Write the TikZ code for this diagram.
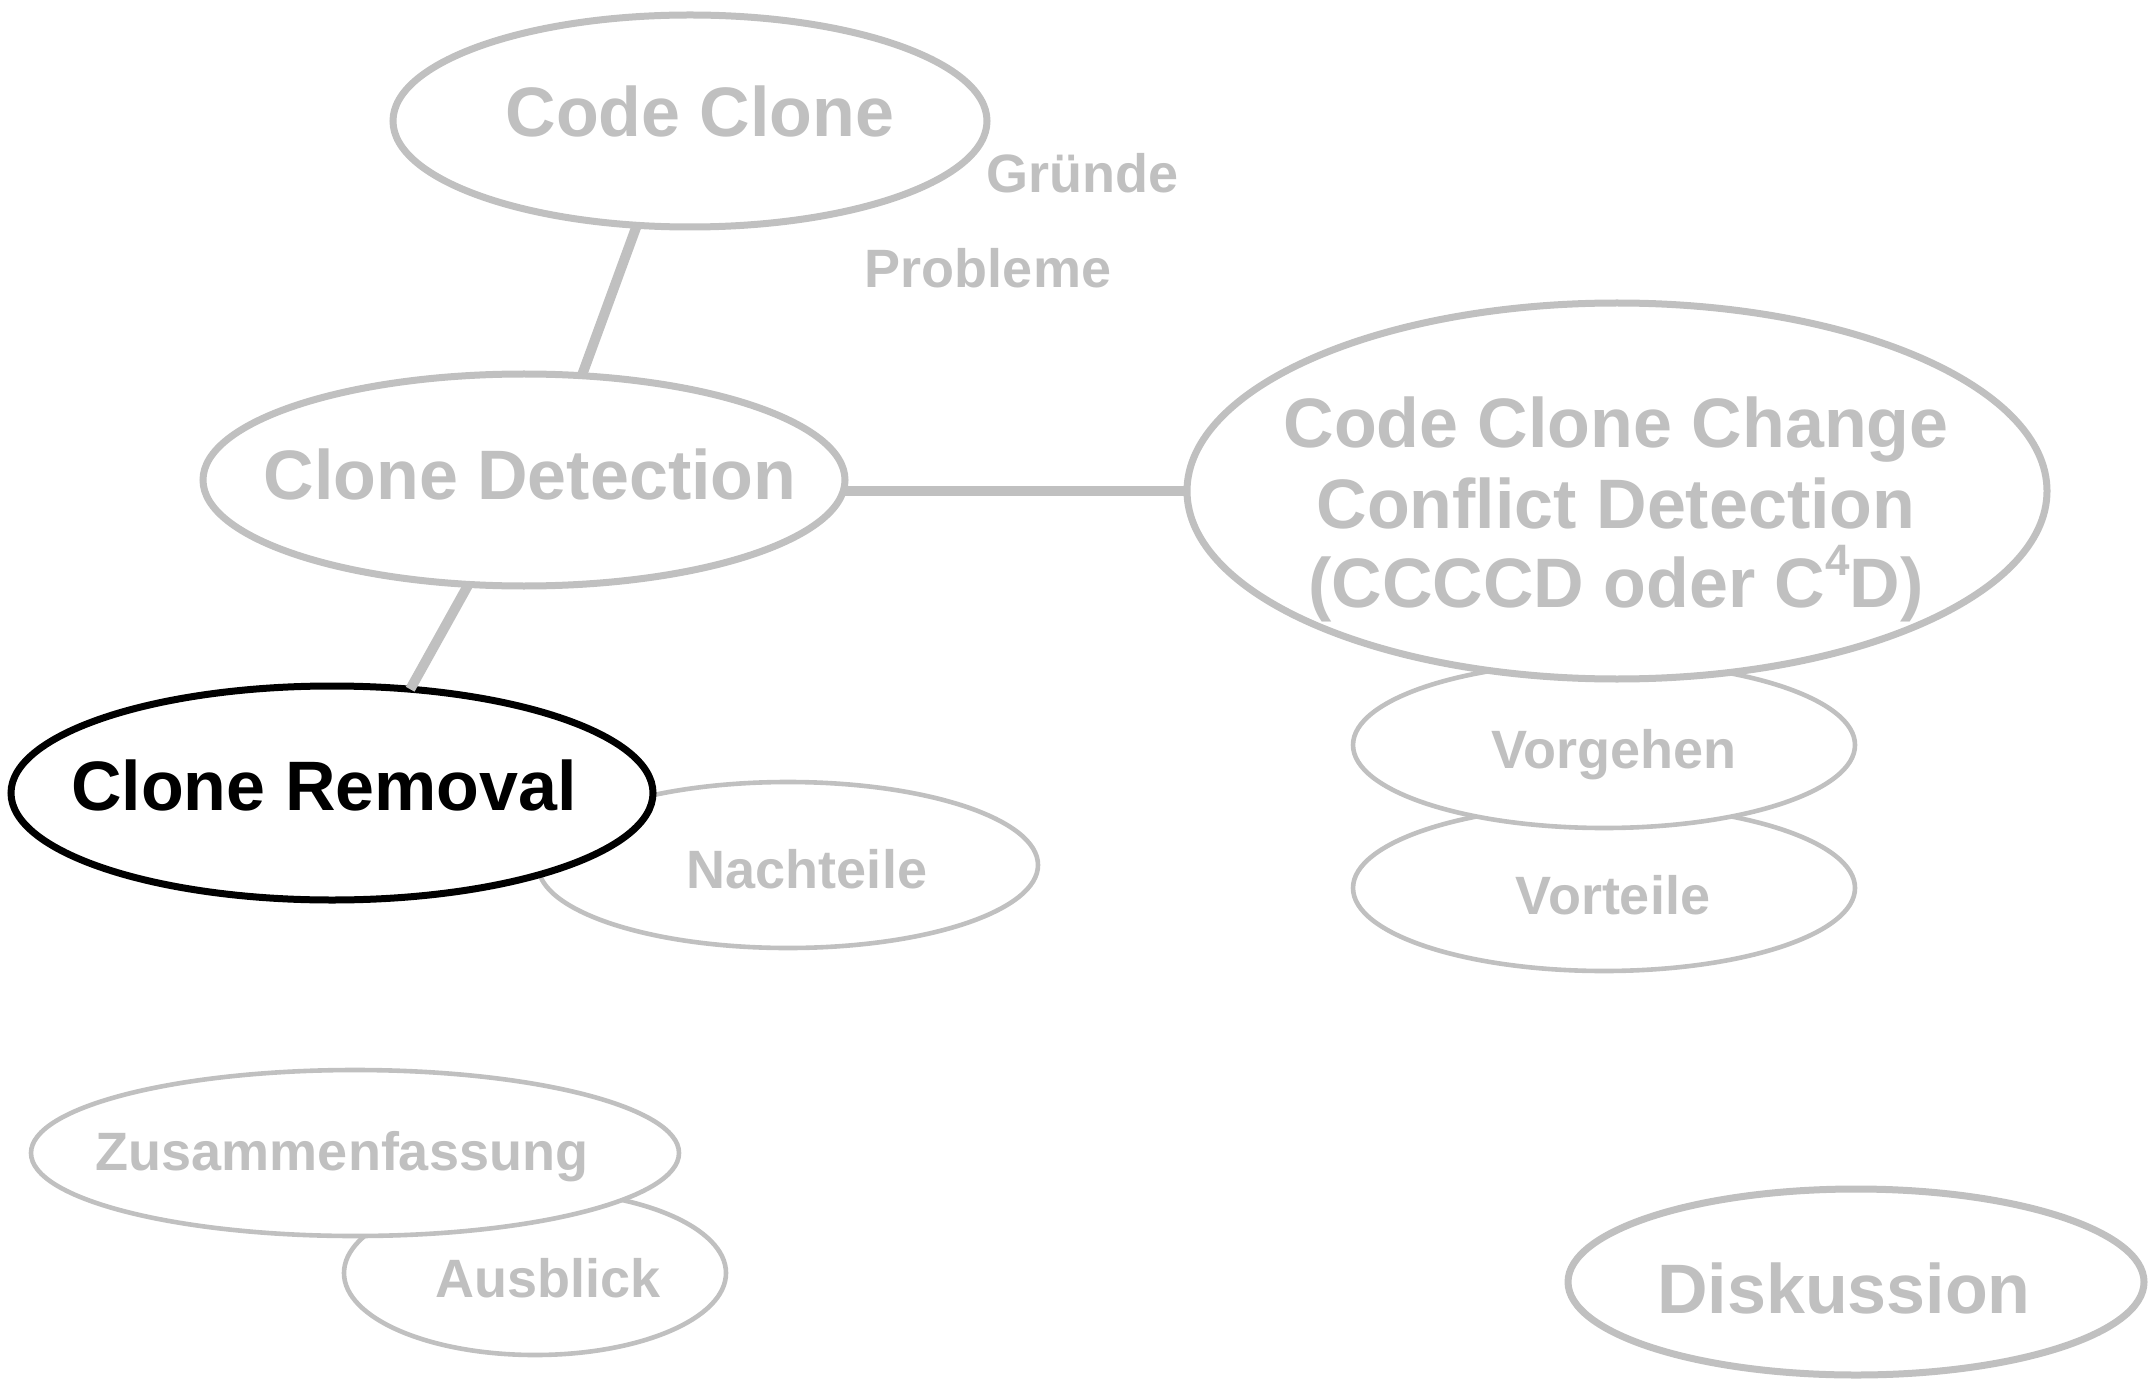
\documentclass[tikz,border=0pt]{standalone}
\usepackage{fontspec}
\setmainfont{Liberation Sans}
\usetikzlibrary{shapes.geometric}
\definecolor{lightgr}{HTML}{C0C0C0}
\tikzset{
  mainfont/.style={font=\bfseries\fontsize{35}{40}\selectfont},
  subfont/.style={font=\bfseries\fontsize{27}{30}\selectfont},
  mainell/.style={ellipse, draw=lightgr, fill=white, line width=3.5pt, inner sep=0pt, outer sep=0pt},
  subell/.style={ellipse, draw=lightgr, fill=white, line width=2.3pt, inner sep=0pt, outer sep=0pt},
  activeell/.style={ellipse, draw=black, fill=white, line width=3.5pt, inner sep=0pt, outer sep=0pt},
  maintext/.style={text=lightgr, mainfont, inner sep=0pt, anchor=base},
  activetext/.style={text=black, mainfont, inner sep=0pt, anchor=base},
  subtext/.style={text=lightgr, subfont, inner sep=0pt, anchor=base},
  conn/.style={draw=lightgr, line width=5pt}
}
\begin{document}
\begin{tikzpicture}[x=0.5pt, y=-0.5pt]
\useasboundingbox (0,0) rectangle (2155,1379);
% sub ellipses underneath
\node[subell, minimum width=250pt, minimum height=83pt] (nach) at (788,865) {};
\node[subell, minimum width=251pt, minimum height=83pt] (vort) at (1604,888) {};
\node[subell, minimum width=251pt, minimum height=83pt] (vorg) at (1604,745) {};
\node[subell, minimum width=191pt, minimum height=82pt] (aus) at (535,1273) {};
\node[subell, minimum width=324pt, minimum height=83pt] (zus) at (355,1153) {};
% main ellipses
\node[mainell, minimum width=297pt, minimum height=106pt] (cc) at (690,121) {};
\node[mainell, minimum width=321pt, minimum height=106pt] (cd) at (524,480) {};
\node[mainell, minimum width=430pt, minimum height=188pt] (ccccd) at (1617,491) {};
\node[activeell, minimum width=321pt, minimum height=107pt] (cr) at (332,793) {};
\node[mainell, minimum width=288pt, minimum height=93pt] (disk) at (1856,1282) {};
% texts
\node[maintext] (cctext) at (700,137) {Code Clone};
\node[maintext] (cdtext) at (530,499) {Clone Detection};
\node[maintext] (ctexta) at (1616,448) {Code Clone Change};
\node[maintext] (ctextb) at (1616,528) {Conflict Detection};
\node[maintext] (ctextc) at (1616,607) {(CCCCD oder C\raisebox{16pt}{\fontsize{22}{22}\selectfont 4}D)};
\node[activetext] (crtext) at (324,810) {Clone Removal};
\node[maintext] (disktext) at (1844,1313) {Diskussion};
\node[subtext] (nachtext) at (807,888) {Nachteile};
\node[subtext] (vorgtext) at (1614,768) {Vorgehen};
\node[subtext] (vorttext) at (1613,914) {Vorteile};
\node[subtext] (zustext) at (342,1170) {Zusammenfassung};
\node[subtext] (austext) at (548,1297) {Ausblick};
\node[subtext] (gruende) at (1082,193) {Gründe};
\node[subtext] (probleme) at (988,288) {Probleme};
% connectors
\draw[conn] (cc.243) -- (cd.61);
\draw[conn] (cd.242) -- (cr.53);
\draw[conn] (ccccd.west) -- (cd.east |- ccccd.west);
\end{tikzpicture}
\end{document}
